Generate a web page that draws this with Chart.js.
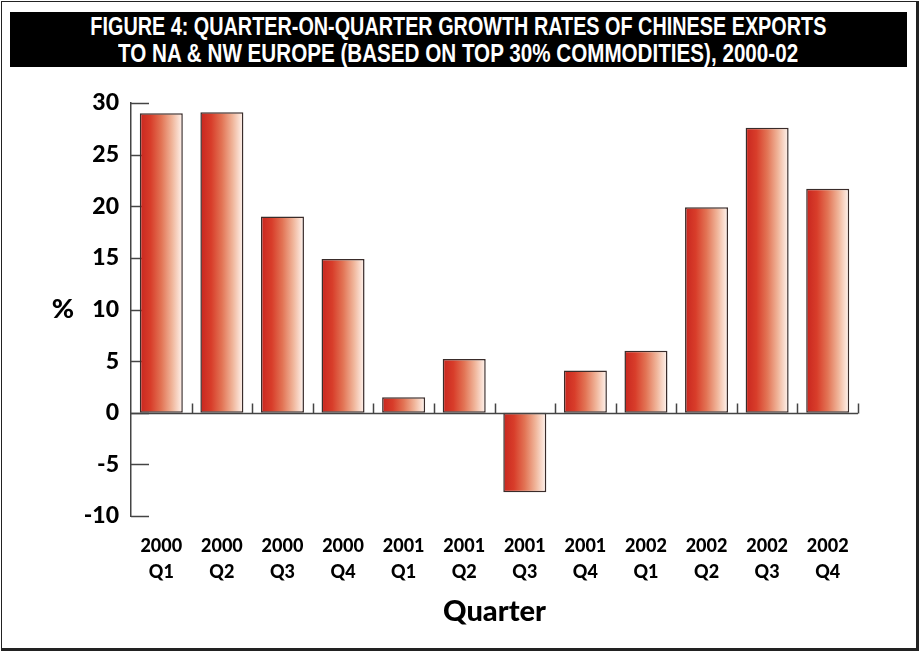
<!DOCTYPE html>
<html>
<head>
<meta charset="utf-8">
<script src="https://cdn.jsdelivr.net/npm/chart.js@4"></script>
<style>
  body { margin: 0; background: #fff; }
  #wrap { position: relative; width: 919px; height: 651px; overflow: hidden; }
  #frame { position: absolute; left: 1px; top: 1px; width: 918px; height: 650px; box-sizing: border-box;
           border-style: solid; border-color: #222; border-width: 1px 3px 3px 1px; }
  #titlebar { position: absolute; left: 10px; top: 12px; width: 897px; height: 55px; background: #000; }
  .tline { position: absolute; left: -542px; width: 2000px; text-align: center; color: #fff;
           font-family: "Liberation Sans", Arial, sans-serif; font-weight: bold;
           font-size: 25px; line-height: 27px; white-space: nowrap; }
  .tline span { display: inline-block; transform-origin: center; }
  canvas { position: absolute; left: 0; top: 0; }
</style>
</head>
<body>
<div id="wrap">
  <canvas id="growthChart" width="919" height="651"></canvas>
  <div id="frame"></div>
  <div id="titlebar"></div>
  <div class="tline" style="top:13px"><span id="t1">FIGURE 4: QUARTER-ON-QUARTER GROWTH RATES OF CHINESE EXPORTS</span></div>
  <div class="tline" style="top:40px"><span id="t2">TO NA &amp; NW EUROPE (BASED ON TOP 30% COMMODITIES), 2000-02</span></div>
</div>
<script>
const years = ['2000', '2000', '2000', '2000', '2001', '2001', '2001', '2001', '2002', '2002', '2002', '2002'];
const quarters = ['Q1', 'Q2', 'Q3', 'Q4', 'Q1', 'Q2', 'Q3', 'Q4', 'Q1', 'Q2', 'Q3', 'Q4'];
const growth = [29.0, 29.1, 19.0, 14.9, 1.5, 5.2, -7.7, 4.1, 6.0, 19.9, 27.6, 21.7];
const yTicks = [-10, -5, 0, 5, 10, 15, 20, 25, 30];

// squeeze title lines to the width of the original condensed type
function fitTitle(id, target) {
    const el = document.getElementById(id);
    const w = el.getBoundingClientRect().width;
    el.style.transform = `scaleX(${target / w})`;
}
fitTitle('t1', 736);
fitTitle('t2', 680);

const labelFont = 'Lato, "Open Sans", sans-serif';

function barGradient(context) {
    const chart = context.chart;
    const xs = chart.scales.x;
    if (!xs || !chart.chartArea) return '#d83d2a';
    const cx = xs.getPixelForValue(context.dataIndex);
    const half = xs.width / growth.length * 0.71 / 2;
    const g = chart.ctx.createLinearGradient(cx - half, 0, cx + half, 0);
    g.addColorStop(0, '#c8261f');
    g.addColorStop(0.25, '#d83d2a');
    g.addColorStop(0.5, '#e27455');
    g.addColorStop(0.75, '#f0b59a');
    g.addColorStop(1, '#fff5f0');
    return g;
}

const axisMarks = {
    id: 'axisMarks',
    beforeDatasetsDraw(chart) {
        const { ctx, scales: { x, y } } = chart;
        ctx.save();
        ctx.strokeStyle = '#444';
        ctx.lineWidth = 1.5;
        yTicks.forEach(v => {
            const py = Math.round(y.getPixelForValue(v)) + 0.5;
            ctx.beginPath();
            ctx.moveTo(x.left, py);
            ctx.lineTo(x.left + 18, py);
            ctx.stroke();
        });
        ctx.restore();
    },
    afterDatasetsDraw(chart) {
        const { ctx, scales: { x, y } } = chart;
        const y0 = Math.round(y.getPixelForValue(0)) + 0.5;
        ctx.save();
        ctx.strokeStyle = '#444';
        ctx.lineWidth = 1.5;
        ctx.beginPath();
        ctx.moveTo(x.left, y0);
        ctx.lineTo(x.right, y0);
        for (let i = 1; i <= growth.length; i++) {
            const px = Math.round(x.getPixelForValue(i - 0.5)) + 0.5;
            ctx.moveTo(px, y0);
            ctx.lineTo(px, y0 - 10);
        }
        ctx.stroke();
        // "%" axis label, kept horizontal
        ctx.fillStyle = '#000';
        ctx.font = `900 27px ${labelFont}`;
        ctx.textAlign = 'center';
        ctx.textBaseline = 'middle';
        ctx.fillText('%', 63, y.getPixelForValue(10));
        ctx.restore();
    }
};

new Chart(document.getElementById('growthChart'), {
    type: 'bar',
    data: {
        labels: years.map((yr, i) => [yr, quarters[i]]),
        datasets: [{
            data: growth,
            backgroundColor: barGradient,
            borderColor: '#3a2c2a',
            borderWidth: 1.5,
            borderSkipped: false,
            barPercentage: 0.71,
            categoryPercentage: 1
        }]
    },
    options: {
        responsive: false,
        animation: false,
        devicePixelRatio: 1,
        layout: { padding: { top: 103, right: 61, left: 0, bottom: 0 } },
        plugins: { legend: { display: false }, tooltip: { enabled: false } },
        scales: {
            x: {
                grid: { display: false, drawTicks: false },
                border: { display: false },
                ticks: {
                    color: '#000',
                    padding: 17,
                    maxRotation: 0,
                    autoSkip: false,
                    font: { family: labelFont, size: 18, weight: '900', lineHeight: 26 / 18 }
                },
                title: {
                    display: true,
                    text: 'Quarter',
                    color: '#000',
                    padding: { top: 0, bottom: 22 },
                    font: { family: labelFont, size: 29, weight: '900', lineHeight: 1.2 }
                },
                afterFit(scale) { scale.height = 135; }
            },
            y: {
                min: -10,
                max: 30,
                grid: { display: false, drawTicks: false },
                border: { display: true, color: '#444', width: 1.5 },
                ticks: {
                    stepSize: 5,
                    color: '#000',
                    padding: 12,
                    font: { family: labelFont, size: 23, weight: '900' }
                },
                afterFit(scale) { scale.width = 131; }
            }
        }
    },
    plugins: [axisMarks]
});
</script>
</body>
</html>
